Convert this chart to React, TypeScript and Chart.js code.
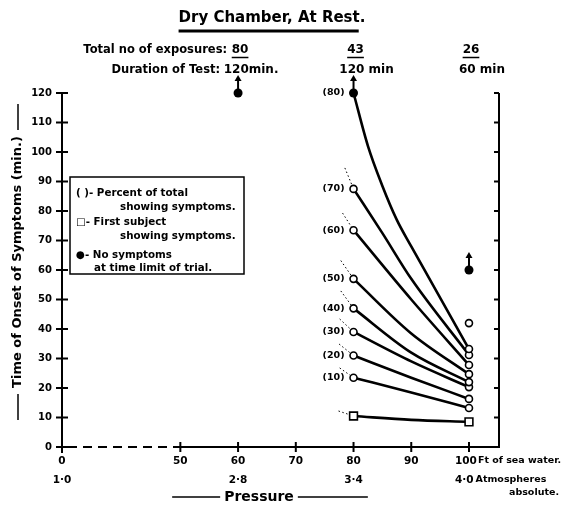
import React, { useEffect, useRef } from 'react';
import { Chart, registerables } from 'chart.js';

Chart.register(...registerables);

const FONT = '"DejaVu Sans", "Liberation Sans", sans-serif';

// ---------- values ----------
const depthTicks = [0, 50, 60, 70, 80, 90, 100]; // ft of sea water
const depthBreakPos = 29.5; // axis position of the "0 ft" tick (axis is broken between 0 and 50)
const depthMax = 105.2;
const atmosDepths = [0, 60, 80, 100];
const atmosLabels = ['1·0', '2·8', '3·4', '4·0'];
const columnDepths = [60, 80, 100];
const exposureCounts = ['80', '43', '26'];
const testDurations = ['120min.', '120 min', '60 min'];
const measuredDepths = [80, 100];

const percentLabels = ['(80)', '(70)', '(60)', '(50)', '(40)', '(30)', '(20)', '(10)'];
const onsetAt80ft = [120, 87.5, 73.5, 57, 47, 39, 31, 23.5];
const onsetAt90ft = [68, 57, 50, 38.5, 32, 29, 23.5, 18.5];
const onsetAt100ft = [33.2, 31.2, 27.8, 24.7, 22, 20.3, 16.3, 13.2];
const p80ExtraDepths = [82.5, 85, 87.5];
const p80ExtraOnset = [102, 88.5, 77];
const p70ExtraDepths = [85];
const p70ExtraOnset = [72.5];

const firstSubjectDepths = [80, 90, 100];
const firstSubjectOnset = [10.5, 9.2, 8.5];

const leadInDepths = [null, 78.5, 78.1, 77.8, 77.8, 77.6, 77.5, 77.6];
const leadInOnset = [null, 94.6, 79.3, 63.2, 52.9, 43.4, 34.9, 26.8];
const firstLeadInDepth = 77.4;
const firstLeadInOnset = 12.2;

const noSymptomDepths = [60, 80, 100];
const noSymptomOnset = [120, 120, 60];
const extraOpenDepths = [100];
const extraOpenOnset = [42];

// ---------- helpers ----------
const depthPos = (d: number) => (d === 0 ? depthBreakPos : d);
const f = (size: number) => `bold ${size}px ${FONT}`;

function seg(ctx: CanvasRenderingContext2D, x1: number, y1: number, x2: number, y2: number) {
  ctx.beginPath();
  ctx.moveTo(x1, y1);
  ctx.lineTo(x2, y2);
  ctx.stroke();
}

const overlayPlugin = {
  id: 'overlay',
  beforeDatasetsDraw(chart: any) {
    const { ctx, chartArea: a, scales } = chart;
    const x = scales.x;
    const y = scales.y;
    const x0 = x.getPixelForValue(depthBreakPos);
    const yTop = y.getPixelForValue(120);
    ctx.save();
    ctx.strokeStyle = '#000';
    ctx.lineWidth = 2;
    // y axis with crossing ticks
    seg(ctx, x0, yTop, x0, a.bottom + 6);
    for (let v = 0; v <= 120; v += 10) {
      const py = y.getPixelForValue(v);
      seg(ctx, x0 - 6, py, x0 + 6, py);
    }
    // x axis: dashed across the break, solid after 50 ft
    const x50 = x.getPixelForValue(50);
    ctx.setLineDash([9, 6]);
    seg(ctx, x0 + 6, a.bottom, x50, a.bottom);
    ctx.setLineDash([]);
    seg(ctx, x50, a.bottom, a.right, a.bottom);
    depthTicks.forEach((d) => {
      if (d === 0) return;
      const px = x.getPixelForValue(depthPos(d));
      seg(ctx, px, a.bottom - 5, px, a.bottom + 5);
    });
    // right border with inward ticks
    seg(ctx, a.right, a.bottom + 1, a.right, yTop);
    for (let v = 10; v <= 120; v += 10) {
      const py = y.getPixelForValue(v);
      seg(ctx, a.right - 5, py, a.right, py);
    }
    ctx.restore();
  },
  afterDraw(chart: any) {
    const { ctx, scales } = chart;
    const x = scales.x;
    const col = (d: number) => x.getPixelForValue(depthPos(d));
    ctx.save();
    ctx.fillStyle = '#000';
    ctx.strokeStyle = '#000';
    ctx.textBaseline = 'middle';

    // title
    const title = 'Dry Chamber, At Rest.';
    ctx.font = f(15);
    ctx.textAlign = 'center';
    const tx = 272;
    ctx.fillText(title, tx, 18);
    const tw = ctx.measureText(title).width;
    const dw = ctx.measureText('.').width;
    ctx.lineWidth = 3;
    seg(ctx, tx - tw / 2, 31, tx + tw / 2 - dw - 1, 31);

    // exposure / duration rows
    ctx.font = f(11.5);
    ctx.textAlign = 'right';
    ctx.fillText('Total no of exposures:', col(60) - 11, 50);
    ctx.fillText('Duration of Test:', col(60) - 18, 70);
    columnDepths.forEach((d, i) => {
      const cx = col(d) + 2;
      ctx.font = f(12);
      ctx.textAlign = 'center';
      ctx.fillText(exposureCounts[i], cx, 50);
      const w = ctx.measureText(exposureCounts[i]).width;
      ctx.lineWidth = 1.5;
      seg(ctx, cx - w / 2, 57.5, cx + w / 2, 57.5);
      ctx.fillText(testDurations[i], col(d) + 13, 70);
    });

    // y-axis title
    ctx.save();
    ctx.translate(18, 262);
    ctx.rotate(-Math.PI / 2);
    ctx.font = f(13);
    ctx.textAlign = 'center';
    const yt = 'Time of Onset of Symptoms (min.)';
    ctx.fillText(yt, 0, 0);
    const yw = ctx.measureText(yt).width;
    ctx.lineWidth = 1.5;
    seg(ctx, -yw / 2 - 6, 0, -yw / 2 - 32, 0);
    seg(ctx, yw / 2 + 6, 0, yw / 2 + 32, 0);
    ctx.restore();

    // legend box
    ctx.lineWidth = 1.5;
    ctx.strokeRect(70, 177, 174, 97);
    ctx.font = f(10.3);
    ctx.textAlign = 'left';
    ctx.fillText('( )- Percent of total', 76, 193);
    ctx.fillText('showing symptoms.', 120, 207);
    ctx.fillText('\u25A1- First subject', 76, 222);
    ctx.fillText('showing symptoms.', 120, 236);
    ctx.fillText('\u25CF- No symptoms', 76, 255);
    ctx.fillText('at time limit of trial.', 94, 268);

    // percent labels at the 80 ft points
    ctx.font = f(9.5);
    ctx.textAlign = 'right';
    percentLabels.forEach((lab, i) => {
      const p = chart.getDatasetMeta(i).data[0];
      ctx.fillText(lab, p.x - 9, p.y);
    });

    // arrows above "no symptoms" points
    const nsIndex = chart.data.datasets.findIndex((ds: any) => ds.id === 'noSymptoms');
    chart.getDatasetMeta(nsIndex).data.forEach((p: any) => {
      ctx.lineWidth = 2;
      seg(ctx, p.x, p.y - 4, p.x, p.y - 13);
      ctx.beginPath();
      ctx.moveTo(p.x, p.y - 18);
      ctx.lineTo(p.x - 3.5, p.y - 12);
      ctx.lineTo(p.x + 3.5, p.y - 12);
      ctx.closePath();
      ctx.fill();
    });

    // bottom labels
    ctx.font = f(10.5);
    ctx.textAlign = 'center';
    atmosDepths.forEach((d, i) => {
      if (d === 100) return;
      ctx.fillText(atmosLabels[i], col(d), 480);
    });
    const c100 = col(100);
    ctx.textAlign = 'left';
    ctx.fillText('100', c100 - 14, 461);
    const w100 = ctx.measureText('100').width;
    const w40 = ctx.measureText(atmosLabels[3]).width;
    ctx.fillText(atmosLabels[3], c100 - 14, 480);
    ctx.font = f(9.5);
    ctx.fillText('Ft of sea water.', c100 - 13 + w100, 461);
    ctx.fillText('Atmospheres', c100 - 12 + w40, 480);
    ctx.textAlign = 'right';
    ctx.fillText('absolute.', 559, 493);

    // Pressure
    ctx.font = f(14);
    ctx.textAlign = 'center';
    const pc = 259;
    ctx.fillText('Pressure', pc, 497);
    const pw = ctx.measureText('Pressure').width;
    ctx.lineWidth = 1.5;
    seg(ctx, pc - pw / 2 - 4, 497, pc - pw / 2 - 52, 497);
    seg(ctx, pc + pw / 2 + 4, 497, pc + pw / 2 + 74, 497);

    ctx.restore();
  },
};

export default function App() {
  const ref = useRef<HTMLCanvasElement | null>(null);

  useEffect(() => {
    if (!ref.current) return;
    Chart.defaults.font.family = FONT;
    Chart.defaults.color = '#000';

    const markerRadius = (r: number) => (c: any) =>
      c.raw && measuredDepths.includes(c.raw.x) ? r : 0;

    const curveSets: any[] = percentLabels.map((lab, i) => {
      const pts: { x: number; y: number }[] = [{ x: 80, y: onsetAt80ft[i] }];
      if (i === 0) p80ExtraDepths.forEach((d, k) => pts.push({ x: d, y: p80ExtraOnset[k] }));
      if (i === 1) p70ExtraDepths.forEach((d, k) => pts.push({ x: d, y: p70ExtraOnset[k] }));
      pts.push({ x: 90, y: onsetAt90ft[i] });
      pts.push({ x: 100, y: onsetAt100ft[i] });
      return {
        label: lab,
        data: pts,
        borderColor: '#000',
        borderWidth: 2.6,
        cubicInterpolationMode: 'monotone',
        pointStyle: 'circle',
        pointRadius: (c: any) => (i === 0 && c.dataIndex === 0 ? 0 : markerRadius(3.5)(c)),
        pointBackgroundColor: '#fff',
        pointBorderColor: '#000',
        pointBorderWidth: 1.6,
        clip: false,
        order: 2,
      };
    });

    const firstSet = {
      label: 'First subject',
      data: firstSubjectDepths.map((d, k) => ({ x: d, y: firstSubjectOnset[k] })),
      borderColor: '#000',
      borderWidth: 2.6,
      cubicInterpolationMode: 'monotone',
      pointStyle: 'rect',
      pointRadius: markerRadius(5.5),
      pointBackgroundColor: '#fff',
      pointBorderColor: '#000',
      pointBorderWidth: 1.6,
      clip: false,
      order: 2,
    };

    const leadSets: any[] = [];
    leadInDepths.forEach((d, i) => {
      if (d === null) return;
      leadSets.push({
        label: 'lead ' + percentLabels[i],
        data: [
          { x: d, y: leadInOnset[i] as number },
          { x: 80, y: onsetAt80ft[i] },
        ],
        borderColor: '#000',
        borderWidth: 1,
        borderDash: [1.5, 2.5],
        pointRadius: 0,
        clip: false,
        order: 6,
      });
    });
    leadSets.push({
      label: 'lead first',
      data: [
        { x: firstLeadInDepth, y: firstLeadInOnset },
        { x: 80, y: firstSubjectOnset[0] },
      ],
      borderColor: '#000',
      borderWidth: 1,
      borderDash: [1.5, 2.5],
      pointRadius: 0,
      clip: false,
      order: 6,
    });

    const noSymSet = {
      id: 'noSymptoms',
      label: 'No symptoms',
      data: noSymptomDepths.map((d, k) => ({ x: d, y: noSymptomOnset[k] })),
      showLine: false,
      pointStyle: 'circle',
      pointRadius: 4.5,
      pointBackgroundColor: '#000',
      pointBorderColor: '#000',
      pointBorderWidth: 0,
      clip: false,
      order: 0,
    };

    const openSet = {
      label: 'Percent (isolated)',
      data: extraOpenDepths.map((d, k) => ({ x: d, y: extraOpenOnset[k] })),
      showLine: false,
      pointStyle: 'circle',
      pointRadius: 3.5,
      pointBackgroundColor: '#fff',
      pointBorderColor: '#000',
      pointBorderWidth: 1.6,
      clip: false,
      order: 1,
    };

    const chart = new Chart(ref.current, {
      type: 'line',
      data: { datasets: [...curveSets, firstSet, ...leadSets, noSymSet, openSet] as any },
      options: {
        animation: false,
        responsive: false,
        devicePixelRatio: 1,
        layout: { padding: { top: 93, right: 72, left: 0, bottom: 0 } },
        plugins: { legend: { display: false }, tooltip: { enabled: false }, title: { display: false } },
        events: [],
        scales: {
          x: {
            type: 'linear',
            min: depthBreakPos,
            max: depthMax,
            afterBuildTicks: (s: any) => {
              s.ticks = depthTicks.map((d) => ({ value: depthPos(d) }));
            },
            ticks: {
              autoSkip: false,
              maxRotation: 0,
              padding: 8,
              font: { size: 10.5, weight: 'bold' },
              callback: (v: any) => {
                const d = v === depthBreakPos ? 0 : v;
                return d === 100 ? '' : String(d);
              },
            },
            grid: { display: false, drawTicks: false },
            border: { display: false },
            afterFit: (s: any) => {
              s.height = 60;
            },
          },
          y: {
            type: 'linear',
            min: 0,
            max: 120,
            ticks: { stepSize: 10, padding: 10, font: { size: 10, weight: 'bold' } },
            grid: { display: false, drawTicks: false },
            border: { display: false },
            afterFit: (s: any) => {
              s.width = 62;
            },
          },
        },
      } as any,
      plugins: [overlayPlugin],
    });
    return () => chart.destroy();
  }, []);

  return (
    <div style={{ position: 'fixed', left: 0, top: 0, width: 571, height: 507, background: '#fff' }}>
      <canvas ref={ref} width={571} height={507} style={{ width: 571, height: 507, display: 'block' }} />
    </div>
  );
}
